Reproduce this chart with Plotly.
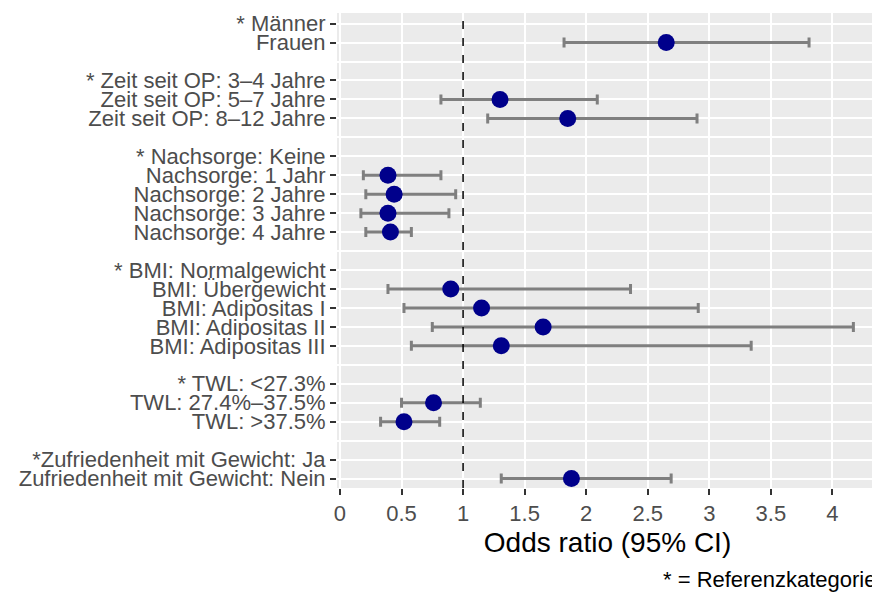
import plotly.graph_objects as go

labels = [
    "* Männer", "Frauen", "",
    "* Zeit seit OP: 3–4 Jahre", "Zeit seit OP: 5–7 Jahre", "Zeit seit OP: 8–12 Jahre", "",
    "* Nachsorge: Keine", "Nachsorge: 1 Jahr", "Nachsorge: 2 Jahre", "Nachsorge: 3 Jahre", "Nachsorge: 4 Jahre", "",
    "* BMI: Normalgewicht", "BMI: Übergewicht", "BMI: Adipositas I", "BMI: Adipositas II", "BMI: Adipositas III", "",
    "* TWL: <27.3%", "TWL: 27.4%–37.5%", "TWL: >37.5%", "",
    "*Zufriedenheit mit Gewicht: Ja", "Zufriedenheit mit Gewicht: Nein",
]
odds_ratio = [None, 2.65, None,
              None, 1.30, 1.85, None,
              None, 0.39, 0.44, 0.39, 0.41, None,
              None, 0.90, 1.15, 1.65, 1.31, None,
              None, 0.76, 0.52, None,
              None, 1.88]
ci_low = [None, 1.82, None,
          None, 0.82, 1.20, None,
          None, 0.19, 0.21, 0.17, 0.21, None,
          None, 0.39, 0.52, 0.75, 0.58, None,
          None, 0.50, 0.33, None,
          None, 1.31]
ci_high = [None, 3.81, None,
           None, 2.09, 2.90, None,
           None, 0.82, 0.94, 0.885, 0.58, None,
           None, 2.36, 2.91, 4.17, 3.34, None,
           None, 1.14, 0.81, None,
           None, 2.69]
x_ticks = [0, 0.5, 1, 1.5, 2, 2.5, 3, 3.5, 4]
x_tick_labels = ["0", "0.5", "1", "1.5", "2", "2.5", "3", "3.5", "4"]
reference_value = 1
x_title = "Odds ratio (95% CI)"
caption = "* = Referenzkategorie"

rows = list(range(len(labels)))
labeled_rows = [i for i, l in enumerate(labels) if l]
tick_text = [labels[i].replace("<", "&lt;").replace(">", "&gt;") for i in labeled_rows]

idx = [i for i in rows if odds_ratio[i] is not None]
xs = [odds_ratio[i] for i in idx]
plus = [ci_high[i] - odds_ratio[i] for i in idx]
minus = [odds_ratio[i] - ci_low[i] for i in idx]

FONT = "Liberation Sans, Arial, Helvetica, sans-serif"

fig = go.Figure()
fig.add_trace(go.Scatter(
    x=xs, y=idx, mode="markers",
    marker=dict(color="#00008B", size=17, line=dict(width=0)),
    error_x=dict(type="data", symmetric=False, array=plus, arrayminus=minus,
                 color="#7F7F7F", thickness=3, width=5),
    showlegend=False, hoverinfo="x+y",
))
fig.add_shape(type="line", xref="x", yref="paper", x0=reference_value, x1=reference_value,
              y0=0, y1=1, line=dict(color="black", width=1.5, dash="8px,9px"), layer="above")

fig.update_layout(
    width=872, height=585,
    margin=dict(l=329, r=2, t=5, b=105),
    paper_bgcolor="white", plot_bgcolor="#EBEBEB",
    font=dict(family=FONT, color="#4D4D4D", size=22),
    showlegend=False,
    xaxis=dict(
        range=[-0.024, 4.37], tickmode="array", tickvals=x_ticks, ticktext=x_tick_labels,
        showgrid=True, gridcolor="white", gridwidth=1.8, zeroline=False,
        ticks="outside", ticklen=6, tickwidth=2, tickcolor="#333333",
        tickfont=dict(size=22, color="#4D4D4D"),
        title=dict(text=x_title, font=dict(size=28, color="black"), standoff=6),
        showline=False,
    ),
    yaxis=dict(
        range=[24.5, -0.56], tickmode="array", tickvals=labeled_rows, ticktext=tick_text,
        showgrid=True, gridcolor="white", gridwidth=1.8, zeroline=False,
        ticks="outside", ticklen=6, tickwidth=2, tickcolor="#333333",
        tickfont=dict(size=22, color="#4D4D4D"),
        minor=dict(tickmode="array", tickvals=rows, showgrid=True, gridcolor="white",
                   gridwidth=1.8, ticks=""),
        showline=False,
    ),
    annotations=[dict(
        text=caption, xref="paper", yref="paper", x=1, y=-0.192,
        xanchor="right", yanchor="middle", showarrow=False,
        font=dict(size=22, color="black", family=FONT),
    )],
)

fig.write_html("out.html")
